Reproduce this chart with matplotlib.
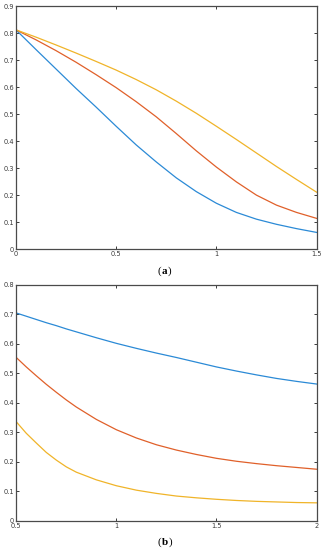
import matplotlib
matplotlib.use("Agg")
import matplotlib.pyplot as plt
from matplotlib.ticker import FixedLocator, FixedFormatter

# ---- data ----
# panel (a)
xa = [0.0, 0.1, 0.2, 0.3, 0.4, 0.5, 0.6, 0.7, 0.8, 0.9, 1.0, 1.1, 1.2, 1.3, 1.4, 1.5]
ya_blue = [0.812, 0.739, 0.667, 0.595, 0.526, 0.455, 0.386, 0.323, 0.264, 0.213, 0.170, 0.136, 0.111, 0.092, 0.076, 0.062]
ya_red = [0.812, 0.775, 0.735, 0.692, 0.646, 0.598, 0.546, 0.490, 0.428, 0.364, 0.304, 0.249, 0.200, 0.163, 0.136, 0.114]
ya_yel = [0.812, 0.785, 0.756, 0.726, 0.695, 0.663, 0.628, 0.590, 0.548, 0.503, 0.455, 0.406, 0.356, 0.306, 0.258, 0.211]

# panel (b)
xb = [0.5, 0.55, 0.6, 0.65, 0.7, 0.75, 0.8, 0.9, 1.0, 1.1, 1.2, 1.3, 1.4, 1.5, 1.6, 1.7, 1.8, 1.9, 2.0]
yb_blue = [0.704, 0.693, 0.682, 0.671, 0.661, 0.650, 0.640, 0.620, 0.601, 0.584, 0.568, 0.553, 0.537, 0.521, 0.507, 0.494, 0.482, 0.472, 0.463]
yb_red = [0.553, 0.521, 0.491, 0.462, 0.435, 0.409, 0.385, 0.343, 0.308, 0.280, 0.257, 0.239, 0.224, 0.211, 0.201, 0.193, 0.186, 0.180, 0.174]
yb_yel = [0.335, 0.296, 0.263, 0.231, 0.205, 0.182, 0.164, 0.138, 0.118, 0.103, 0.092, 0.083, 0.077, 0.072, 0.068, 0.065, 0.063, 0.061, 0.060]

xticks_a = [0, 0.5, 1, 1.5]
xlabels_a = ["0", "0.5", "1", "1.5"]
yticks_a = [0, 0.1, 0.2, 0.3, 0.4, 0.5, 0.6, 0.7, 0.8, 0.9]
ylabels_a = ["0", "0.1", "0.2", "0.3", "0.4", "0.5", "0.6", "0.7", "0.8", "0.9"]
xticks_b = [0.5, 1, 1.5, 2]
xlabels_b = ["0.5", "1", "1.5", "2"]
yticks_b = [0, 0.1, 0.2, 0.3, 0.4, 0.5, 0.6, 0.7, 0.8]
ylabels_b = ["0", "0.1", "0.2", "0.3", "0.4", "0.5", "0.6", "0.7", "0.8"]

BLUE = "#2b8ad6"
RED = "#e0602a"
YEL = "#f0b429"

fig = plt.figure(figsize=(3.25, 5.5), dpi=100)
fig.patch.set_facecolor("white")

def style(ax, xt, xl, yt, yl, xlim, ylim):
    ax.set_xlim(*xlim)
    ax.set_ylim(*ylim)
    ax.xaxis.set_major_locator(FixedLocator(xt))
    ax.xaxis.set_major_formatter(FixedFormatter(xl))
    ax.yaxis.set_major_locator(FixedLocator(yt))
    ax.yaxis.set_major_formatter(FixedFormatter(yl))
    ax.tick_params(direction="in", length=2.5, width=0.7, top=True, right=True,
                   labelsize=4.8, colors="#3a3a3a", pad=1.5)
    for s in ax.spines.values():
        s.set_color("#4a4a4a")
        s.set_linewidth(0.9)

ax1 = fig.add_axes([0.049, 0.547, 0.925, 0.442])
ax1.plot(xa, ya_blue, color=BLUE, lw=0.9)
ax1.plot(xa, ya_red, color=RED, lw=0.9)
ax1.plot(xa, ya_yel, color=YEL, lw=0.9)
style(ax1, xticks_a, xlabels_a, yticks_a, ylabels_a, (0, 1.5), (0, 0.9))

ax2 = fig.add_axes([0.050, 0.0536, 0.924, 0.4288])
ax2.plot(xb, yb_blue, color=BLUE, lw=0.9)
ax2.plot(xb, yb_red, color=RED, lw=0.9)
ax2.plot(xb, yb_yel, color=YEL, lw=0.9)
style(ax2, xticks_b, xlabels_b, yticks_b, ylabels_b, (0.5, 2), (0, 0.8))

fig.text(0.497, 0.507, "(", ha="right", va="center", fontsize=8, family="Liberation Serif")
fig.text(0.497, 0.507, "a", ha="left", va="center", fontsize=8, fontweight="bold", family="Liberation Serif")
fig.text(0.517, 0.507, ")", ha="left", va="center", fontsize=8, family="Liberation Serif")
fig.text(0.497, 0.0145, "(", ha="right", va="center", fontsize=8, family="Liberation Serif")
fig.text(0.497, 0.0145, "b", ha="left", va="center", fontsize=8, fontweight="bold", family="Liberation Serif")
fig.text(0.519, 0.0145, ")", ha="left", va="center", fontsize=8, family="Liberation Serif")

fig.savefig("out.png", dpi=100, facecolor="white")
